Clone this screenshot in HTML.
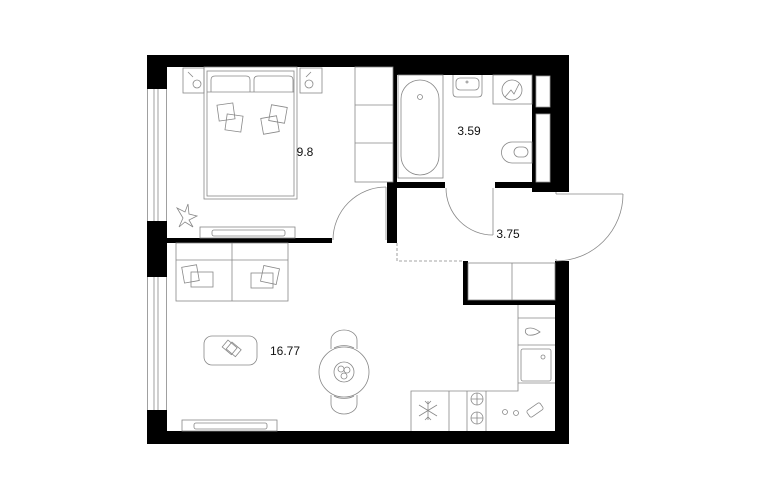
<!DOCTYPE html>
<html><head><meta charset="utf-8"><style>
html,body{margin:0;padding:0;background:#fff;}
svg{display:block;}
text{font-family:"Liberation Sans",sans-serif;font-size:12px;fill:#111;}
</style></head><body>
<svg width="770" height="500" viewBox="0 0 770 500" xmlns="http://www.w3.org/2000/svg">
<g fill="#000">
<rect x="147" y="55" width="422" height="12"/>
<rect x="393" y="55" width="176" height="20"/>
<rect x="147" y="55" width="20" height="34"/>
<rect x="147" y="221" width="20" height="56"/>
<rect x="147" y="410" width="20" height="34"/>
<rect x="147" y="431" width="422" height="13"/>
<rect x="555" y="261" width="14" height="183"/>
<rect x="532" y="55" width="37" height="137"/>
<rect x="393" y="67" width="4" height="121"/>
<rect x="387" y="182" width="10" height="61"/>
<rect x="393" y="182" width="52" height="6"/>
<rect x="495" y="182" width="57" height="6"/>
<rect x="167" y="238" width="165" height="5"/>
<rect x="463" y="261" width="5" height="44"/>
<rect x="463" y="300" width="92" height="5"/>
</g>
<g fill="#fff" stroke="#999" stroke-width="0.8">
<rect x="536" y="76" width="14" height="31"/>
<rect x="536" y="114" width="14" height="68"/>
</g>
<g fill="none" stroke="#888" stroke-width="0.8">
<line x1="147.5" y1="89" x2="147.5" y2="221"/><line x1="154" y1="89" x2="154" y2="221"/><line x1="158" y1="89" x2="158" y2="221"/><line x1="166.5" y1="89" x2="166.5" y2="221"/>
<line x1="147.5" y1="277" x2="147.5" y2="410"/><line x1="154" y1="277" x2="154" y2="410"/><line x1="158" y1="277" x2="158" y2="410"/><line x1="166.5" y1="277" x2="166.5" y2="410"/>
<line x1="556" y1="194" x2="623" y2="194"/><path d="M623 194 A67 67 0 0 1 556 261"/>
<line x1="556" y1="192" x2="556" y2="194"/><line x1="556" y1="259" x2="556" y2="261"/>
<line x1="493" y1="188" x2="493" y2="235"/><path d="M446 188 A47 47 0 0 0 493 235"/>
<line x1="386" y1="187" x2="386" y2="240"/><path d="M333 240 A53 53 0 0 1 386 187"/>
<path d="M397 243 V261 H463" stroke-dasharray="3 2"/>
<rect x="183" y="68" width="21" height="25"/><rect x="300" y="68" width="22" height="25"/>
<circle cx="197" cy="84" r="4"/><circle cx="309" cy="84" r="4"/>
<path d="M188 72 l5 5 M311 72 l-5 5"/>
<rect x="204" y="67" width="93" height="132"/><rect x="207" y="71" width="87" height="125"/>
<path d="M211 92 V80 q0 -4 4 -4 h31 q4 0 4 4 V92 M254 92 V80 q0 -4 4 -4 h31 q4 0 4 4 V92"/>
<line x1="207" y1="92" x2="294" y2="92"/>
<rect x="218" y="104" width="16" height="16" transform="rotate(-8 226 112)"/>
<rect x="226" y="115" width="16" height="16" transform="rotate(8 234 123)"/>
<rect x="270" y="106" width="16" height="16" transform="rotate(10 278 114)"/>
<rect x="262" y="117" width="16" height="16" transform="rotate(-10 270 125)"/>
<rect x="355" y="67" width="38" height="115"/><line x1="355" y1="105" x2="393" y2="105"/><line x1="355" y1="143" x2="393" y2="143"/>
<rect x="200" y="227" width="95" height="11"/><rect x="212" y="230" width="73" height="6" rx="2"/>
<path d="M183 218 l-6 -10 l8 4 l3 -8 l1 10 l8 2 l-8 4 l4 7 l-8 -5 l-6 5 z"/>
<rect x="398" y="75" width="45" height="103"/><rect x="401" y="80" width="38" height="95" rx="19"/>
<circle cx="420" cy="97" r="2.5"/>
<path d="M453 75 V93 q0 4 4 4 h21 q4 0 4 -4 V75"/><rect x="456" y="78" width="23" height="12" rx="4"/><circle cx="467" cy="82" r="1"/>
<rect x="493" y="75" width="39" height="29"/><circle cx="512" cy="90" r="10"/><path d="M505 97 l6 -7 l3 4 l5 -10"/>
<path d="M532 142 h-20 a10 10 0 0 0 0 21 h20 z"/><rect x="514" y="147" width="14" height="10" rx="5"/>
<rect x="176" y="243" width="112" height="58"/><line x1="232" y1="243" x2="232" y2="301"/><line x1="176" y1="260" x2="288" y2="260"/>
<rect x="183" y="266" width="15" height="16" transform="rotate(-10 190 274)"/><rect x="191" y="272" width="22" height="15"/>
<rect x="262" y="267" width="16" height="16" transform="rotate(12 270 275)"/><rect x="251" y="273" width="22" height="15"/>
<rect x="204" y="336" width="53" height="29" rx="8"/>
<rect x="224" y="343" width="12" height="9" transform="rotate(40 230 347)"/><rect x="228" y="345" width="12" height="9" transform="rotate(40 234 349)"/>
<rect x="182" y="420" width="95" height="11"/><rect x="194" y="423" width="73" height="6" rx="2"/>
<circle cx="344" cy="372" r="25"/><circle cx="344" cy="372" r="10"/>
<circle cx="341" cy="369" r="3"/><circle cx="347" cy="370" r="3"/><circle cx="344" cy="376" r="3"/>
<path d="M331 349 V340 a13 10 0 0 1 26 0 V349 M334 348 a14 8 0 0 1 20 0"/>
<path d="M331 395 V404 a13 10 0 0 0 26 0 V395 M334 396 a14 8 0 0 0 20 0"/>
<rect x="468" y="263" width="87" height="37"/>
<line x1="512" y1="263" x2="512" y2="300"/>
<path d="M518 305 V391 H411 V431"/>
<line x1="518" y1="318" x2="555" y2="318"/><line x1="518" y1="345" x2="555" y2="345"/><line x1="518" y1="383" x2="555" y2="383"/>
<path d="M540 332 q-8 -6 -14 -3 q-2 4 2 6 q6 1 12 -3z"/>
<rect x="521" y="349" width="30" height="32" rx="2"/><circle cx="543" cy="357" r="2"/>
<line x1="449" y1="391" x2="449" y2="431"/><line x1="467" y1="391" x2="467" y2="431"/><line x1="486" y1="391" x2="486" y2="431"/>
<path d="M428 401 v19 M419 405 l18 11 M419 416 l18 -11 M425 401 l3 3 l3 -3 M425 420 l3 -3 l3 3"/>
<circle cx="477" cy="399" r="6"/><path d="M471 399 h12 M477 393 v12"/>
<circle cx="477" cy="418" r="6"/><path d="M471 418 h12 M477 412 v12"/>
<circle cx="505" cy="412" r="2.5"/><circle cx="516" cy="413" r="2.5"/>
<rect x="527" y="406" width="16" height="8" rx="2" transform="rotate(-35 535 410)"/>
</g>
<text x="305" y="156" text-anchor="middle">9.8</text>
<text x="469" y="135" text-anchor="middle">3.59</text>
<text x="508" y="238" text-anchor="middle">3.75</text>
<text x="285" y="355" text-anchor="middle">16.77</text>
</svg>
</body></html>
